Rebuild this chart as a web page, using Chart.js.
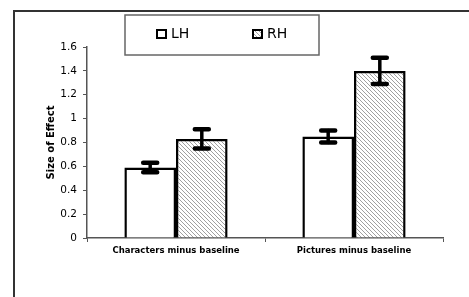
<!DOCTYPE html>
<html>
<head>
<meta charset="utf-8">
<script src="https://cdn.jsdelivr.net/npm/chart.js@4.4.1/dist/chart.umd.min.js"></script>
<style>
  html, body { margin: 0; padding: 0; background: #fff; }
  #wrap { width: 469px; height: 297px; position: relative; }
</style>
</head>
<body>
<div id="wrap"><canvas id="myChart" width="469" height="297"></canvas></div>
<script>
// data
const categories = ["Characters minus baseline", "Pictures minus baseline"];
const seriesNames = ["LH", "RH"];
const lhValues = [0.59, 0.85];
const rhValues = [0.83, 1.40];
const lhErrors = [0.04, 0.05];
const rhErrors = [0.08, 0.11];
const yTicks = [0, 0.2, 0.4, 0.6, 0.8, 1, 1.2, 1.4, 1.6];

function makeHatch() {
  const c = document.createElement("canvas");
  c.width = 4;
  c.height = 4;
  const g = c.getContext("2d");
  g.fillStyle = "#fff";
  g.fillRect(0, 0, 4, 4);
  g.fillStyle = "#a0a0a0";
  for (let i = 0; i < 4; i++) {
    g.fillRect(i, i, 1, 1);
  }
  return g.createPattern(c, "repeat");
}
const hatch = makeHatch();

// outer frame, legend box and error bars
const extras = {
  id: "extras",
  beforeDraw(chart) {
    const ctx = chart.ctx;
    ctx.save();
    ctx.strokeStyle = "#333";
    ctx.lineWidth = 2;
    ctx.beginPath();
    ctx.moveTo(14, 297);
    ctx.lineTo(14, 11);
    ctx.lineTo(469, 11);
    ctx.stroke();
    ctx.restore();
  },
  afterDatasetsDraw(chart) {
    const ctx = chart.ctx;
    const y = chart.scales.y;
    const errs = [lhErrors, rhErrors];
    ctx.save();
    ctx.strokeStyle = "#000";
    ctx.lineCap = "round";
    chart.data.datasets.forEach((ds, di) => {
      const meta = chart.getDatasetMeta(di);
      meta.data.forEach((bar, i) => {
        const v = ds.data[i];
        const e = errs[di][i];
        const yt = y.getPixelForValue(v + e);
        const yb = y.getPixelForValue(v - e);
        ctx.lineWidth = 3.5;
        ctx.beginPath();
        ctx.moveTo(bar.x, yt);
        ctx.lineTo(bar.x, yb);
        ctx.stroke();
        ctx.lineWidth = 4.5;
        ctx.beginPath();
        ctx.moveTo(bar.x - 7, yt);
        ctx.lineTo(bar.x + 7, yt);
        ctx.moveTo(bar.x - 7, yb);
        ctx.lineTo(bar.x + 7, yb);
        ctx.stroke();
      });
    });
    ctx.restore();
  },
  afterDraw(chart) {
    const ctx = chart.ctx;
    ctx.save();
    ctx.fillStyle = "#fff";
    ctx.fillRect(125, 15, 194, 40);
    ctx.strokeStyle = "#666";
    ctx.lineWidth = 1.5;
    ctx.strokeRect(125, 15, 194, 40);
    const items = [
      { x: 157, fill: "#fff" },
      { x: 253, fill: hatch }
    ];
    ctx.font = "14px 'DejaVu Sans'";
    ctx.textBaseline = "middle";
    items.forEach((it, i) => {
      ctx.fillStyle = it.fill;
      ctx.fillRect(it.x, 30, 9, 8);
      ctx.strokeStyle = "#000";
      ctx.lineWidth = 2;
      ctx.strokeRect(it.x, 30, 9, 8);
      ctx.fillStyle = "#000";
      ctx.fillText(seriesNames[i], it.x + 14, 34.5);
    });
    ctx.restore();
  }
};

const chart = new Chart(document.getElementById("myChart").getContext("2d"), {
  type: "bar",
  data: {
    labels: categories,
    datasets: [
      {
        label: seriesNames[0],
        data: lhValues,
        backgroundColor: "#fff",
        borderColor: "#000",
        borderWidth: 2.5
      },
      {
        label: seriesNames[1],
        data: rhValues,
        backgroundColor: hatch,
        borderColor: "#000",
        borderWidth: 2.5
      }
    ]
  },
  options: {
    responsive: false,
    animation: false,
    events: [],
    layout: { padding: { top: 47, right: 26, left: 0, bottom: 0 } },
    datasets: { bar: { categoryPercentage: 0.58, barPercentage: 1 } },
    plugins: {
      legend: { display: false },
      tooltip: { enabled: false }
    },
    scales: {
      x: {
        afterFit(scale) { scale.height = 59; },
        border: { color: "#555", width: 1.5 },
        grid: { display: true, offset: true, drawOnChartArea: false, tickLength: 4, color: "#555" },
        ticks: {
          color: "#000",
          padding: 4,
          maxRotation: 0,
          font: { family: "'DejaVu Sans'", size: 8.5, weight: "bold" }
        }
      },
      y: {
        min: 0,
        max: 1.6,
        afterFit(scale) { scale.width = 87; },
        afterBuildTicks(scale) { scale.ticks = yTicks.map(v => ({ value: v })); },
        border: { color: "#555", width: 1.5 },
        grid: { drawOnChartArea: false, tickLength: 4, color: "#555" },
        title: {
          display: true,
          text: "Size of Effect",
          color: "#000",
          padding: { top: 45, bottom: 0 },
          font: { family: "'DejaVu Sans'", size: 10, weight: "bold" }
        },
        ticks: {
          color: "#000",
          padding: 6,
          font: { family: "'DejaVu Sans'", size: 10.5 },
          callback: v => String(v)
        }
      }
    }
  },
  plugins: [extras]
});
</script>
</body>
</html>
